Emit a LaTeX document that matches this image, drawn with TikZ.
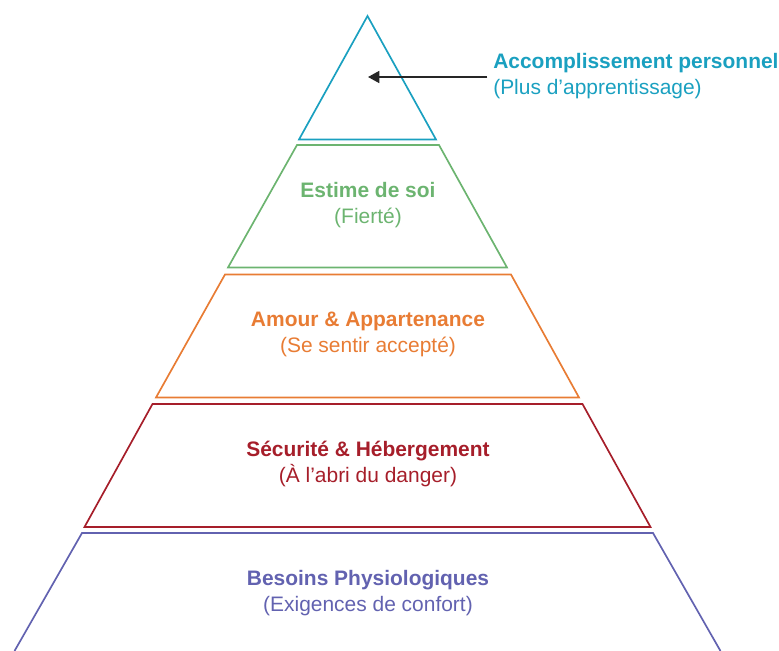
\documentclass[tikz,border=0pt]{standalone}
\usepackage{fontspec}
\setmainfont{Liberation Sans}
\usetikzlibrary{arrows.meta}

\definecolor{accol}{RGB}{26,160,192}
\definecolor{estcol}{RGB}{108,180,112}
\definecolor{amocol}{RGB}{232,124,52}
\definecolor{seccol}{RGB}{166,30,42}
\definecolor{phycol}{RGB}{98,98,176}

\tikzset{
  level/.style={line width=1.2pt, line join=miter},
  lbl/.style={align=center, inner sep=0pt, font=\fontsize{14.9}{18.5}\selectfont},
}

\begin{document}
\begin{tikzpicture}[x=0.025cm, y=-0.025cm]
    \useasboundingbox (0,0) rectangle (779,651);

    % Top: triangle
    \draw[level, accol] (367.5,16) -- (436,139.5) -- (299,139.5) -- cycle;

    % Level 2
    \draw[level, estcol] (297,145) -- (439,145) -- (507,267.5) -- (228,267.5) -- cycle;

    % Level 3
    \draw[level, amocol] (225,274.5) -- (511,274.5) -- (579,397.5) -- (156,397.5) -- cycle;

    % Level 4
    \draw[level, seccol] (152.5,404) -- (582.5,404) -- (650.5,527) -- (84.5,527) -- cycle;

    % Base (cut by the page edge)
    \draw[level, phycol] (14.5,651) -- (82,533) -- (653,533) -- (720.5,651);

    % Labels
    \node[lbl, text=estcol] (estime) at (368,205) {\textbf{Estime de soi}\\(Fierté)};
    \node[lbl, text=amocol] (amour) at (368,334) {\textbf{Amour \& Appartenance}\\(Se sentir accepté)};
    \node[lbl, text=seccol] (securite) at (368,463.5) {\textbf{Sécurité \& Hébergement}\\(À l’abri du danger)};
    \node[lbl, text=phycol] (besoins) at (368,593) {\textbf{Besoins Physiologiques}\\(Exigences de confort)};

    % Top label and arrow
    \node[lbl, align=left, anchor=west, text=accol] (accomp) at (493,76)
        {\textbf{Accomplissement personnel}\\(Plus d’apprentissage)};
    \coordinate (tip) at (368,77);
    \draw[line width=1.1pt, black!85, -{Triangle[length=8pt, width=8.5pt]}]
        ([xshift=-4pt]accomp.west |- tip) -- (tip);

\end{tikzpicture}
\end{document}
